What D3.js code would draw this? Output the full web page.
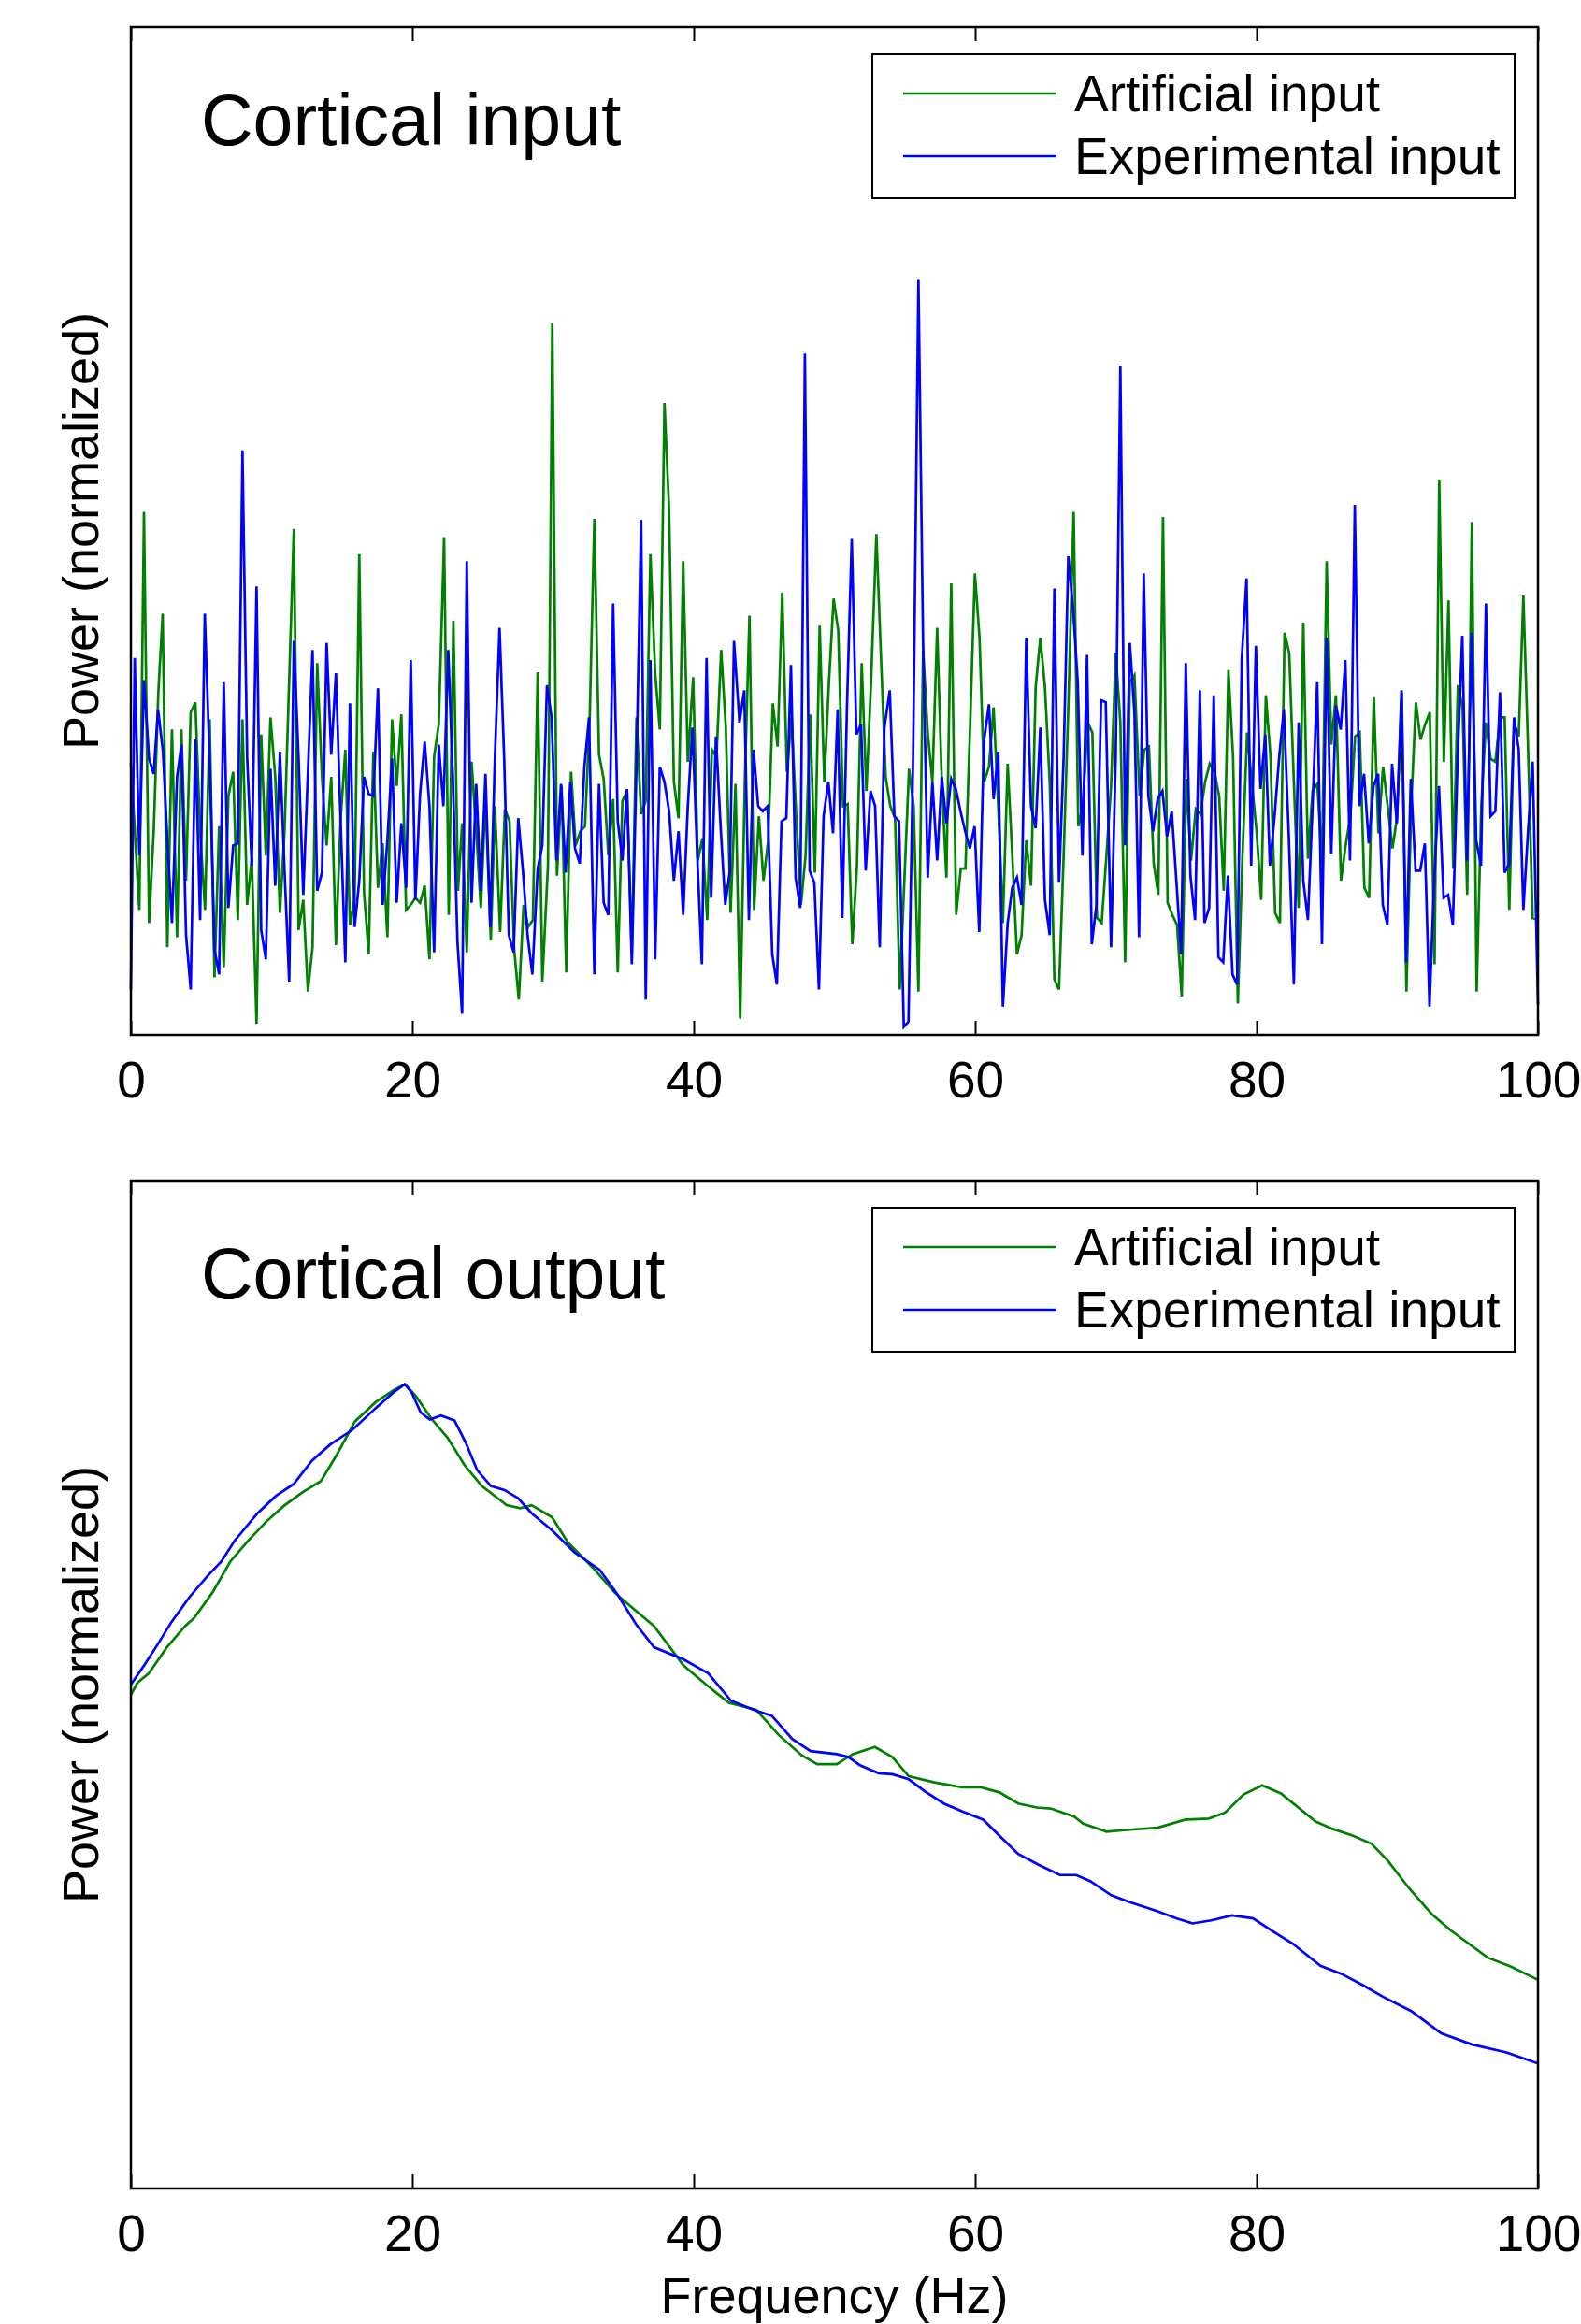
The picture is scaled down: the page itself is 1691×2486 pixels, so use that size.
<!DOCTYPE html>
<html>
<head>
<meta charset="utf-8">
<script src="https://cdn.jsdelivr.net/npm/d3@7"></script>
<style>
  html, body { margin: 0; padding: 0; background: #fff; }
  svg { display: block; }
  text { font-family: "Liberation Sans", Arial, Helvetica, sans-serif; fill: #000; }
</style>
</head>
<body>
<svg id="chart" width="1691" height="2486"></svg>
<script>
// ---------------- DATA ----------------
const xTicks = [0, 20, 40, 60, 80, 100];
const titles = ["Cortical input", "Cortical output"];
const seriesNames = ["Artificial input", "Experimental input"];
const xLabel = "Frequency (Hz)";
const yLabel = "Power (normalized)";

// Cortical input – Artificial (green)
const inputArtFreq = [0,0.6,0.93,1.29,1.62,1.95,2.26,2.59,2.92,3.28,3.59,3.92,4.25,4.58,4.92,5.27,5.6,5.94,6.27,6.6,6.93,7.27,7.6,7.93,8.26,8.59,8.93,9.26,9.59,9.92,10.26,10.59,10.92,11.58,11.92,12.25,12.58,12.91,13.24,13.58,13.91,14.24,
14.57,14.9,15.24,15.57,15.9,16.23,16.57,16.9,17.23,17.56,17.89,18.23,18.56,18.89,19.22,19.56,19.89,20.22,20.55,20.88,21.22,21.55,21.88,22.26,22.59,22.92,23.25,23.54,23.87,24.21,24.54,24.87,25.2,25.58,25.87,26.24,26.58,26.91,27.24,27.57,27.91,28.24,28.57,
28.91,29.24,29.64,29.95,30.28,30.61,30.94,31.28,31.61,31.94,32.27,32.61,32.94,33.27,33.6,33.93,34.27,34.6,34.93,35.26,35.6,35.93,36.26,36.59,36.92,37.26,37.59,37.92,38.25,38.59,38.92,39.25,39.58,39.96,40.29,40.62,40.96,41.29,41.62,41.95,42.28,42.62,
42.97,43.3,43.63,43.96,44.29,44.63,44.96,45.29,45.62,45.96,46.29,46.62,46.95,47.28,47.62,47.95,48.28,48.61,48.95,49.28,49.61,49.94,50.27,50.61,50.94,51.27,51.6,51.94,52.27,52.6,52.98,53.31,53.64,53.97,54.31,54.64,54.97,55.3,55.63,55.97,56.3,56.63,56.96,
57.3,57.63,57.96,58.3,58.65,58.98,59.31,59.65,59.98,60.31,60.64,60.98,61.31,61.64,61.97,62.31,62.64,62.97,63.3,63.63,63.97,64.3,64.63,64.96,65.3,65.63,65.96,66.29,66.62,67.0,67.33,67.66,67.99,68.33,68.66,68.99,69.33,69.66,69.99,70.32,70.66,70.99,71.32,
71.69,72.02,72.35,72.69,73.02,73.35,73.68,74.02,74.35,74.68,75.01,75.34,75.68,76.01,76.34,76.67,77.01,77.34,77.67,78.0,78.33,78.67,79.0,79.33,79.66,80.0,80.33,80.66,80.99,81.32,81.66,81.99,82.32,82.65,82.99,83.32,83.65,83.98,84.32,84.65,84.98,85.31,85.64,
86.0,86.33,86.67,87.0,87.33,87.66,88.0,88.33,88.66,88.99,89.32,89.66,89.99,90.32,90.65,90.99,91.32,91.65,91.98,92.31,92.65,92.98,93.31,93.64,93.98,94.31,94.64,94.97,95.3,95.64,95.97,96.3,96.63,96.97,97.3,97.63,97.96,98.3,98.63,98.96,99.29,99.62,100];
const inputArtPower = [27.0,12.4,51.9,11.1,20.2,34.0,41.8,8.7,30.3,9.7,30.3,15.3,32.0,33.0,20.2,12.4,31.3,5.7,20.7,6.7,23.7,26.1,11.4,31.3,12.9,17.5,1.1,29.8,17.8,31.5,25.6,12.1,20.2,50.2,10.4,13.4,4.3,8.7,36.9,25.6,18.8,25.6,
8.9,21.2,28.3,10.9,13.4,47.7,14.1,8.0,28.1,14.6,19.0,9.7,31.3,24.7,31.8,12.4,12.9,13.6,13.1,14.8,7.5,27.6,30.8,49.4,11.9,41.1,14.3,21.0,8.2,27.1,20.2,12.6,23.4,9.4,22.7,10.2,22.4,21.2,8.5,3.5,12.9,10.7,11.4,
36.0,5.3,16.8,70.6,15.8,24.7,6.2,26.1,18.8,20.2,20.7,31.5,51.2,27.8,25.4,17.8,23.4,6.2,23.2,24.2,8.0,31.5,21.9,23.2,47.7,35.9,30.3,62.7,52.1,25.1,21.5,47.0,27.1,35.5,17.3,19.5,11.4,28.3,27.6,38.2,30.5,12.1,
24.9,1.6,25.1,41.6,12.4,21.7,15.3,19.3,32.9,28.6,43.9,26.1,31.5,21.9,12.9,17.8,31.8,16.1,40.6,25.1,35.0,43.3,40.1,22.7,22.9,9.0,16.8,36.9,24.2,35.0,49.7,37.4,25.6,22.7,21.5,4.5,15.3,26.4,22.7,4.3,38.2,30.0,25.1,
40.4,25.1,15.6,44.8,11.9,16.5,16.5,31.0,45.8,39.4,25.1,26.6,32.5,22.7,11.1,26.9,17.8,8.0,9.9,19.3,14.8,34.5,39.4,34.5,25.1,5.5,4.5,17.8,32.5,51.9,20.7,22.7,31.0,30.0,11.6,11.1,17.8,24.7,37.9,31.0,7.2,35.0,35.7,
23.7,28.3,28.6,17.0,13.9,51.4,13.1,11.9,10.9,3.8,25.4,17.3,22.4,21.9,25.1,26.9,26.1,23.7,14.3,36.2,27.6,3.1,17.8,30.0,25.1,20.2,13.4,33.7,27.6,12.1,11.1,39.9,37.9,25.1,12.6,40.9,17.5,24.2,24.9,17.0,47.0,28.8,33.7,
15.3,18.8,21.7,29.6,30.0,14.6,13.6,33.5,20.0,26.6,22.7,18.5,21.7,34.0,4.3,22.7,33.0,29.3,30.8,32.0,7.0,55.1,27.1,43.1,16.5,34.7,32.5,13.9,50.9,4.3,22.7,31.0,27.4,27.1,31.5,31.5,12.4,31.0,29.6,43.6,28.6,11.6,11.4];

// Cortical input – Experimental (blue)
const inputExpFreq = [0,0.27,0.6,0.93,1.29,1.62,1.93,2.28,2.61,2.92,3.28,3.59,3.92,4.25,4.58,4.92,5.25,5.6,5.94,6.27,6.6,6.93,7.27,7.6,7.93,8.26,8.59,8.93,9.26,9.59,9.92,10.26,10.59,10.92,11.25,11.58,11.92,12.25,12.91,13.24,13.58,13.91,14.24,
14.57,14.9,15.24,15.57,15.9,16.23,16.57,16.9,17.23,17.56,17.89,18.23,18.56,18.89,19.22,19.56,19.89,20.22,20.55,20.88,21.22,21.55,21.88,22.21,22.55,22.88,23.21,23.54,23.87,24.21,24.54,24.87,25.2,25.54,25.87,26.2,26.53,26.86,27.2,27.53,27.86,28.19,28.53,
28.91,29.24,29.57,29.9,30.24,30.57,30.9,31.23,31.56,31.9,32.23,32.56,32.94,33.27,33.6,33.93,34.27,34.6,34.93,35.26,35.6,35.93,36.26,36.59,36.92,37.26,37.59,37.92,38.25,38.59,38.92,39.25,39.58,39.91,40.25,40.58,40.91,41.24,41.58,41.91,42.24,42.57,42.86,
43.25,43.59,43.92,44.25,44.58,44.91,45.25,45.58,45.91,46.24,46.58,46.91,47.24,47.57,47.9,48.24,48.57,48.9,49.23,49.57,49.9,50.23,50.56,50.89,51.23,51.56,51.89,52.22,52.56,52.89,53.22,53.55,53.93,54.26,54.59,54.93,55.26,55.59,55.97,56.3,56.63,56.96,
57.3,57.63,57.96,58.3,58.63,58.96,59.29,59.63,59.96,60.29,60.62,60.98,61.31,61.64,61.97,62.31,62.64,62.97,63.3,63.63,63.97,64.3,64.63,64.96,65.3,65.63,65.96,66.29,66.62,66.96,67.29,67.62,67.95,68.29,68.62,68.95,69.28,69.66,69.99,70.32,70.66,70.99,71.32,
71.65,71.98,72.31,72.64,72.97,73.31,73.64,73.97,74.3,74.64,74.97,75.3,75.63,75.97,76.3,76.63,76.96,77.29,77.63,77.96,78.29,78.62,78.95,79.29,79.62,79.95,80.28,80.62,80.95,81.28,81.61,81.94,82.28,82.65,82.99,83.32,83.65,83.98,84.31,84.65,84.98,85.31,85.64,
85.98,86.31,86.64,86.98,87.31,87.64,87.97,88.31,88.64,88.97,89.3,89.63,89.97,90.3,90.63,90.96,91.3,91.63,91.96,92.29,92.62,92.96,93.29,93.62,93.95,94.29,94.62,94.95,95.28,95.61,95.95,96.3,96.63,96.97,97.3,97.63,97.96,98.3,98.63,98.96,99.29,99.62,100];
const inputExpPower = [4.5,37.4,17.8,35.2,27.4,25.9,32.3,28.1,18.8,11.1,25.6,28.8,9.9,4.5,29.3,11.4,41.8,27.1,8.5,6.0,35.0,12.6,18.8,19.0,58.0,27.6,16.8,44.5,10.4,7.5,26.4,14.8,28.1,16.3,5.3,39.1,27.4,13.9,38.2,14.3,16.1,38.9,27.8,
35.9,21.5,7.2,32.9,10.7,15.3,25.6,23.9,23.7,34.4,12.9,19.3,27.4,13.1,21.0,14.6,37.2,13.4,23.9,29.1,22.7,8.2,28.8,22.7,38.2,25.6,9.2,2.1,47.0,13.1,24.9,14.3,25.9,10.7,27.6,40.4,27.4,9.9,8.2,21.5,16.3,9.9,6.0,
16.5,18.8,34.7,31.5,17.3,24.9,16.1,25.1,18.5,17.0,26.6,31.5,6.0,24.9,13.1,11.9,42.8,21.2,17.3,24.4,7.0,26.6,51.1,3.5,37.2,7.5,26.6,25.1,22.2,15.3,20.2,11.9,22.7,30.5,17.8,7.0,37.4,13.6,29.6,20.7,12.9,16.3,39.1,
31.0,34.2,11.4,28.3,22.7,22.2,22.7,8.0,5.0,21.2,21.5,36.7,15.6,12.6,67.6,16.3,15.1,4.5,21.7,25.1,20.0,32.3,11.6,32.5,49.2,29.8,30.8,16.3,24.2,22.7,8.7,30.5,34.2,21.7,21.2,0.8,1.3,27.6,75.0,38.9,15.6,25.1,
17.3,25.6,21.0,25.4,24.4,22.2,20.2,18.5,20.7,10.2,29.1,32.8,23.4,28.1,2.8,11.1,14.6,15.6,12.9,39.4,22.7,20.5,30.5,13.4,9.9,44.3,15.1,27.6,47.5,42.3,35.0,17.8,37.7,9.0,12.9,33.2,33.0,8.7,27.6,66.4,18.8,38.9,32.0,
9.7,45.8,23.7,20.2,23.4,24.2,19.7,22.2,15.3,8.0,36.9,15.8,11.4,34.2,11.1,12.6,33.7,7.7,7.2,15.8,6.0,5.0,37.4,45.3,16.8,38.6,24.4,29.8,16.8,21.7,27.6,32.3,20.2,5.0,31.0,15.3,11.4,22.7,35.0,9.0,39.4,18.0,32.7,
30.3,37.2,17.3,52.6,22.7,25.9,19.0,24.7,25.9,12.9,10.9,26.9,21.0,34.2,7.2,25.4,16.3,16.3,19.0,2.8,15.3,24.7,13.6,13.9,10.9,27.6,39.6,17.3,39.9,19.3,16.8,42.8,21.7,22.2,34.0,16.1,17.0,31.5,28.3,12.4,20.2,27.1,3.0];

// Cortical output – Artificial (green)
const outputArtFreq = [0,0.47,1.27,2.56,3.85,4.49,5.78,7.06,8.35,9.64,10.93,12.22,13.51,14.63,15.92,17.37,18.66,19.47,20.27,21.4,22.5,23.7,24.94,26.7,27.68,28.48,29.93,31.06,32.83,34.4,35.57,37.18,39.27,40.88,42.49,44.43,46.04,47.65,48.77,50.17,51.3,52.87,54.12,55.28,57.1,59.09,60.4,61.73,63.06,64.38,65.37,67.03,67.68,69.34,70.99,72.97,74.95,76.61,77.76,79.08,80.4,81.73,84.2,85.37,86.86,88.17,89.34,90.83,92.47,93.8,96.43,98.09,100];
const outputArtPower = [49.0,50.2,51.1,53.7,55.8,56.6,59.1,62.2,64.3,66.2,67.8,69.1,70.2,72.8,76.1,78.0,79.2,79.8,78.6,76.3,74.5,71.8,69.7,67.8,67.5,67.8,66.6,64.1,61.6,59.1,57.7,55.8,51.9,50.0,48.2,47.5,45.0,43.0,42.1,42.1,43.1,43.8,42.8,40.9,40.3,39.8,39.8,39.3,38.2,37.8,37.7,36.9,36.2,35.4,35.6,35.8,36.6,36.7,37.3,39.1,40.0,39.2,36.4,35.7,35.0,34.2,32.5,29.8,27.2,25.6,22.9,22.0,20.7];

// Cortical output – Experimental (blue)
const outputExpFreq = [0,0.94,1.91,2.88,4.17,5.46,6.42,7.39,9.0,10.29,11.57,12.86,14.15,15.76,17.37,18.66,19.47,19.95,20.6,21.24,22.04,23.0,23.8,24.6,25.58,26.55,27.51,28.48,29.93,31.54,33.31,34.6,35.89,37.18,39.27,41.04,42.65,44.26,45.55,47.0,48.3,50.17,51.0,51.81,53.14,54.12,55.28,56.44,57.77,59.09,60.57,61.73,63.06,64.54,66.03,67.18,68.17,69.67,70.99,72.97,74.29,75.45,76.77,78.26,79.75,81.07,82.56,84.54,86.03,87.52,89.0,90.99,93.13,95.28,97.76,100];
const outputExpPower = [50.0,51.9,54.0,56.2,58.7,60.8,62.2,64.3,67.0,68.7,69.9,72.2,73.8,75.3,77.4,79.0,79.8,79.0,77.0,76.3,76.7,76.2,74.0,71.3,69.7,69.3,68.5,67.0,65.3,63.1,61.4,58.9,56.0,53.7,52.5,51.1,48.4,47.5,46.9,44.6,43.4,43.1,42.8,42.0,41.2,41.1,40.6,39.4,38.2,37.4,36.6,35.0,33.2,32.1,31.1,31.1,30.5,29.1,28.4,27.5,26.8,26.3,26.6,27.1,26.8,25.6,24.3,22.1,21.3,20.2,19.0,17.6,15.4,14.3,13.5,12.4];

const seriesColors = ["#008000", "#0000ff"];

// ---------------- LAYOUT ----------------
const svg = d3.select("#chart");
svg.append("rect").attr("width", 1691).attr("height", 2486).attr("fill", "#fff");

const left = 140, right = 1645, panelH = 1078;
const panelTops = [29, 1263];
const panelData = [
  [[inputArtFreq, inputArtPower], [inputExpFreq, inputExpPower]],
  [[outputArtFreq, outputArtPower], [outputExpFreq, outputExpPower]]
];

const x = d3.scaleLinear().domain([0, 100]).range([left, right]);

panelTops.forEach((top, pi) => {
  const bottom = top + panelH;
  const y = d3.scaleLinear().domain([0, 100]).range([bottom, top]);
  const g = svg.append("g");

  const line = d3.line().x(d => x(d[0])).y(d => y(d[1]));

  panelData[pi].forEach((s, si) => {
    const pts = s[0].map((f, i) => [f, s[1][i]]);
    g.append("path")
      .datum(pts)
      .attr("d", line)
      .attr("fill", "none")
      .attr("stroke", seriesColors[si])
      .attr("stroke-width", 2.7)
      .attr("stroke-linejoin", "miter")
      .attr("stroke-miterlimit", 4);
  });

  // Ticks bottom (inward) with labels
  const axB = g.append("g").attr("transform", `translate(0,${bottom})`)
    .call(d3.axisBottom(x).tickValues(xTicks).tickSize(-15).tickFormat(d3.format("d")));
  axB.select(".domain").remove();
  axB.selectAll("line").attr("stroke", "#000").attr("stroke-width", 2);
  axB.selectAll("text").attr("dy", null).attr("y", 67)
    .style("font-size", "55px").style("font-family", '"Liberation Sans", Arial, Helvetica, sans-serif').attr("fill", "#000");

  // Ticks top (inward)
  const axT = g.append("g").attr("transform", `translate(0,${top})`)
    .call(d3.axisTop(x).tickValues(xTicks).tickSize(-15).tickFormat(""));
  axT.select(".domain").remove();
  axT.selectAll("line").attr("stroke", "#000").attr("stroke-width", 2);

  // Frame
  g.append("rect")
    .attr("x", left).attr("y", top)
    .attr("width", right - left).attr("height", panelH)
    .attr("fill", "none").attr("stroke", "#000").attr("stroke-width", 2.5);

  // Title
  g.append("text").attr("x", 215).attr("y", top + 126)
    .style("font-size", "77px").text(titles[pi]);

  // Y label
  g.append("text")
    .attr("transform", `translate(105,${top + panelH / 2}) rotate(-90)`)
    .attr("text-anchor", "middle")
    .style("font-size", "54px").text(yLabel);

  // Legend
  const lg = g.append("g").attr("transform", `translate(933,${top + 29})`);
  lg.append("rect").attr("width", 687).attr("height", 154)
    .attr("fill", "#fff").attr("stroke", "#000").attr("stroke-width", 2);
  seriesNames.forEach((name, si) => {
    lg.append("line").attr("x1", 33).attr("x2", 197)
      .attr("y1", 42 + si * 67).attr("y2", 42 + si * 67)
      .attr("stroke", seriesColors[si]).attr("stroke-width", 2.7);
    lg.append("text").attr("x", 216).attr("y", 61 + si * 67)
      .style("font-size", "55px").text(name);
  });
});

// X label
svg.append("text").attr("x", (left + right) / 2).attr("y", 2474)
  .attr("text-anchor", "middle").style("font-size", "54px").text(xLabel);
</script>
</body>
</html>
